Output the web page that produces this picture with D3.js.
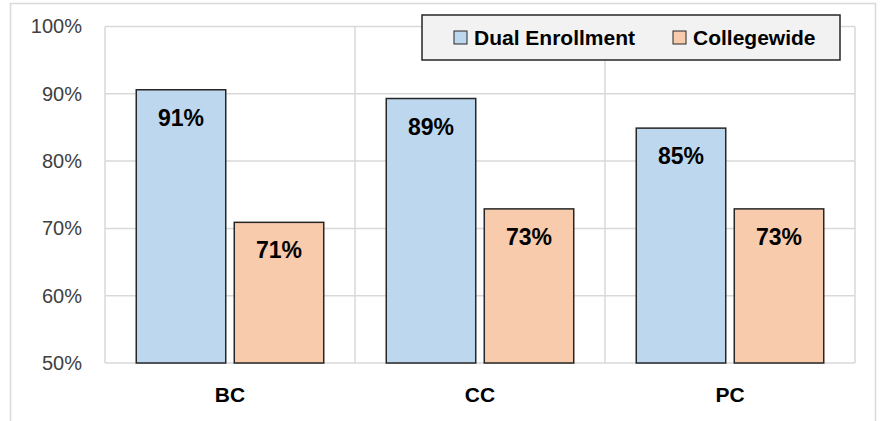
<!DOCTYPE html>
<html>
<head>
<meta charset="utf-8">
<script src="https://cdn.jsdelivr.net/npm/d3@7"></script>
<style>
	body { margin: 0; background: #fff; }
	text { font-family: 'Liberation Sans', Arial, sans-serif; }
</style>
</head>
<body>
<svg></svg>
<script>
const width = 885;
const height = 421;

const categories = ['BC', 'CC', 'PC'];
const seriesNames = ['Dual Enrollment', 'Collegewide'];
const dualEnrollment = [90.6, 89.3, 84.9];
const collegewide = [70.9, 72.9, 72.9];
const yTicks = [50, 60, 70, 80, 90, 100];

const svg = d3.select('svg')
	.attr('width', width)
	.attr('height', height);

// outer chart border
svg.append('rect')
	.attr('x', 10.5)
	.attr('y', 3.5)
	.attr('width', 865)
	.attr('height', 430)
	.attr('fill', '#fff')
	.attr('stroke', '#d9d9d9')
	.attr('stroke-width', 1.5);

const plot = { left: 105, right: 855, top: 26.5, bottom: 363 };

const x0 = d3.scaleBand()
	.domain(categories)
	.range([plot.left, plot.right]);

const x1 = d3.scaleBand()
	.domain(seriesNames)
	.range([0, x0.bandwidth()])
	.paddingInner(0.087)
	.paddingOuter(0.319);

const y = d3.scaleLinear()
	.domain([50, 100])
	.range([plot.bottom, plot.top]);

const colorScale = d3.scaleOrdinal()
	.domain(seriesNames)
	.range(['#bdd7ee', '#f8cbad']);

const rows = categories.map((c, i) => ({
	category: c,
	values: [
		{ series: seriesNames[0], value: dualEnrollment[i] },
		{ series: seriesNames[1], value: collegewide[i] }
	]
}));

// grid
const grid = svg.append('g')
	.attr('stroke', '#d9d9d9')
	.attr('stroke-width', 1.5);

grid.selectAll('.h').data(yTicks).enter().append('line')
	.attr('x1', plot.left)
	.attr('x2', plot.right)
	.attr('y1', d => y(d))
	.attr('y2', d => y(d));

grid.selectAll('.v').data([...categories.map(c => x0(c)), plot.right]).enter().append('line')
	.attr('x1', d => d)
	.attr('x2', d => d)
	.attr('y1', plot.top)
	.attr('y2', plot.bottom);

// y axis labels
const yAxis = d3.axisLeft(y)
	.tickValues(yTicks)
	.tickFormat(d => d + '%')
	.tickSize(0)
	.tickPadding(23);

svg.append('g')
	.attr('transform', `translate(${plot.left}, 0)`)
	.call(yAxis)
	.call(g => g.select('.domain').remove())
	.selectAll('text')
		.attr('font-size', 20)
		.attr('fill', '#404040')
		.style('font-family', "'Liberation Sans', Arial, sans-serif");

// x axis labels
const xAxis = d3.axisBottom(x0)
	.tickSize(0)
	.tickPadding(24);

svg.append('g')
	.attr('transform', `translate(0, ${plot.bottom})`)
	.call(xAxis)
	.call(g => g.select('.domain').remove())
	.selectAll('text')
		.attr('font-size', 21)
		.attr('font-weight', 'bold')
		.attr('fill', '#000')
		.style('font-family', "'Liberation Sans', Arial, sans-serif");

// bars
const groups = svg.selectAll('.cat').data(rows).enter().append('g')
	.attr('transform', d => `translate(${x0(d.category)}, 0)`);

groups.selectAll('rect').data(d => d.values).enter().append('rect')
	.attr('x', d => x1(d.series))
	.attr('y', d => y(d.value))
	.attr('width', x1.bandwidth())
	.attr('height', d => y(50) - y(d.value))
	.attr('fill', d => colorScale(d.series))
	.attr('stroke', '#262626')
	.attr('stroke-width', 1.5);

groups.selectAll('text').data(d => d.values).enter().append('text')
	.attr('x', d => x1(d.series) + x1.bandwidth() / 2)
	.attr('y', d => y(d.value) + 28)
	.attr('dy', '0.35em')
	.attr('text-anchor', 'middle')
	.attr('font-size', 23)
	.attr('font-weight', 'bold')
	.attr('fill', '#000')
	.text(d => Math.round(d.value) + '%');

// legend
const legend = svg.append('g')
	.attr('transform', 'translate(422, 15)');

legend.append('rect')
	.attr('width', 418)
	.attr('height', 45)
	.attr('fill', '#f2f2f2')
	.attr('stroke', '#262626')
	.attr('stroke-width', 1.5);

const legendX = [32, 251];
const items = legend.selectAll('.item').data(seriesNames).enter().append('g')
	.attr('transform', (d, i) => `translate(${legendX[i]}, 16)`);

items.append('rect')
	.attr('width', 13)
	.attr('height', 13)
	.attr('fill', d => colorScale(d))
	.attr('stroke', '#262626')
	.attr('stroke-width', 1);

items.append('text')
	.attr('x', 20)
	.attr('y', 7)
	.attr('dy', '0.35em')
	.attr('font-size', 21)
	.attr('font-weight', 'bold')
	.attr('fill', '#000')
	.text(d => d);
</script>
</body>
</html>
